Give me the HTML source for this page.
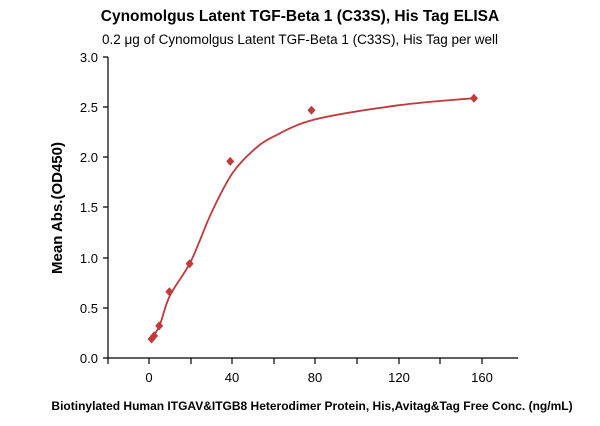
<!DOCTYPE html>
<html><head><meta charset="utf-8"><style>
body{margin:0;background:#fff;width:600px;height:421px;overflow:hidden}
text{font-family:"Liberation Sans",sans-serif;fill:#000}
</style></head><body>
<svg id="s" width="600" height="421" xmlns="http://www.w3.org/2000/svg">
<text x="300" y="21" text-anchor="middle" font-size="15.5" font-weight="bold">Cynomolgus Latent TGF-Beta 1 (C33S), His Tag ELISA</text>
<text x="300" y="44" text-anchor="middle" font-size="13.5">0.2 μg of Cynomolgus Latent TGF-Beta 1 (C33S), His Tag per well</text>
<g stroke="#000" stroke-width="1.2" fill="none">
<line x1="108" y1="57" x2="108" y2="358"/>
<line x1="108" y1="358" x2="518" y2="358"/>
<path d="M103 57H108M103 107H108M103 157H108M103 207H108M103 258H108M103 308H108M103 358H108"/>
<path d="M108 358V364M149 358V364M191 358V364M232 358V364M274 358V364M315 358V364M357 358V364M399 358V364M440 358V364M482 358V364"/>
</g>
<g font-size="13" text-anchor="end">
<text x="98" y="62">3.0</text><text x="98" y="112">2.5</text><text x="98" y="162">2.0</text>
<text x="98" y="212">1.5</text><text x="98" y="263">1.0</text><text x="98" y="313">0.5</text><text x="98" y="363">0.0</text>
</g>
<g font-size="13" text-anchor="middle">
<text x="149" y="382">0</text><text x="232" y="382">40</text><text x="315" y="382">80</text><text x="399" y="382">120</text><text x="482" y="382">160</text>
</g>
<text transform="translate(62 208) rotate(-90)" text-anchor="middle" font-size="15" font-weight="bold">Mean Abs.(OD450)</text>
<text x="312" y="410" text-anchor="middle" font-size="12" font-weight="bold">Biotinylated Human ITGAV&amp;ITGB8 Heterodimer Protein, His,Avitag&amp;Tag Free Conc. (ng/mL)</text>
<path id="c" fill="none" stroke="#c0393b" stroke-width="1.8"/>
<g id="p" fill="#c0393b"></g>
</svg>
<script>
function X(v){return 149+v*2.083}function Y(v){return 358-v*100.3}
var k=[[1.2,0.2],[5,0.32],[10,0.62],[20,0.96],[30,1.45],[40,1.84],[50,2.07],[60,2.21],[80,2.38],[120,2.52],[156,2.59]].map(function(p){return[X(p[0]),Y(p[1])]});
var d="M"+k[0][0]+" "+k[0][1];
for(var i=0;i<k.length-1;i++){var p0=k[Math.max(i-1,0)],p1=k[i],p2=k[i+1],p3=k[Math.min(i+2,k.length-1)];
d+="C"+(p1[0]+(p2[0]-p0[0])/6).toFixed(1)+" "+(p1[1]+(p2[1]-p0[1])/6).toFixed(1)+" "+(p2[0]-(p3[0]-p1[0])/6).toFixed(1)+" "+(p2[1]-(p3[1]-p1[1])/6).toFixed(1)+" "+p2[0].toFixed(1)+" "+p2[1].toFixed(1);}
document.getElementById("c").setAttribute("d",d);
var pts=[[1.22,0.19],[2.44,0.22],[4.88,0.32],[9.77,0.66],[19.5,0.94],[39,1.96],[78,2.47],[156,2.59]],g=document.getElementById("p"),h="";
pts.forEach(function(p){var a=X(p[0]),b=Y(p[1]);h+='<path d="M'+a+' '+(b-4.5)+'L'+(a+4)+' '+b+'L'+a+' '+(b+4.5)+'L'+(a-4)+' '+b+'Z"/>'});
g.innerHTML=h;
</script>
</body></html>
